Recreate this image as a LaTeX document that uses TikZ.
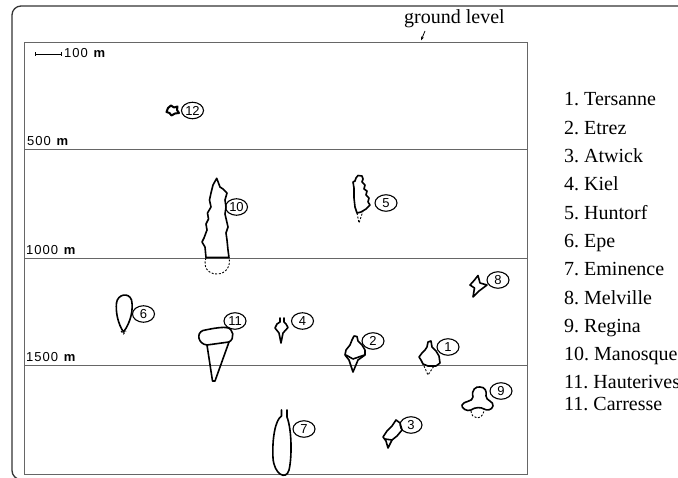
\documentclass[tikz,border=0pt]{standalone}
\usepackage{fontspec}
\setmainfont{Liberation Serif}
\setsansfont{Liberation Sans}
\newfontfamily\depthfont[LetterSpace=8]{Liberation Sans}
\usetikzlibrary{arrows.meta,positioning,shapes.geometric}
\frenchspacing

\begin{document}
\begin{tikzpicture}[
    x=1pt, y=-1pt,
    every node/.style={inner sep=0pt},
    outerframe/.style={draw=black!80, line width=1.3pt, rounded corners=9pt},
    bandline/.style={draw=black!60, line width=0.8pt},
    cavern/.style={draw, line width=1.6pt, line join=round, line cap=round},
    tail/.style={draw, line width=0.9pt, dash pattern=on 2pt off 1.6pt},
    tag/.style={ellipse, draw, line width=1.1pt, minimum width=22pt,
        minimum height=16.5pt, inner sep=0pt,
        font=\sffamily\fontsize{13}{13}\selectfont},
    depth/.style={anchor=base west, font=\depthfont\fontsize{13}{13}\selectfont},
    site/.style={anchor=base west, font=\fontsize{20}{20}\selectfont},
]
\useasboundingbox (0,0) rectangle (678,478);
\clip (0,0) rectangle (678,478);

% ===== Frame and depth bands =====
\draw[outerframe] (700,6) -- (12,6) -- (12,479.5) -- (40,479.5);
\draw[bandline] (24,42) rectangle (527,474);
\draw[bandline] (24,149) -- (527,149);
\draw[bandline] (24,258) -- (527,258);
\draw[bandline] (24,365) -- (527,365);

% Depth marks
\node[depth] (d500) at (27,146) {500 \textbf{m}};
\node[depth] (d1000) at (26,255) {1000 \textbf{m}};
\node[depth] (d1500) at (26,362) {1500 \textbf{m}};

% Scale bar
\draw[line width=0.8pt, {Bar[width=4pt]}-{Bar[width=4pt]}] (35,54) -- (62,54);
\node[depth] (bar) at (64,58) {100 \textbf{m}};

% Ground level
\node[site] (gl) at (404,24) {ground level};
\coordinate (glfoot) at (425,31);
\coordinate (glsurf) at (421,40.5);
\draw[-{Stealth[length=4pt,width=3pt]}, line width=0.8pt] (glfoot) -- (glsurf);

% ===== Caverns =====
% 12
\draw[cavern, line width=2pt] (168,108) -- (171,105.5) -- (174,107.5) -- (177.5,106.5)
    -- (177,110) -- (179,113) -- (175,113.5) -- (171.5,115.5) -- (169.5,113)
    -- (166.5,112) -- cycle;
\node[tag] (t12) at (192.5,110.5) {12};

% 10
\draw[cavern] (206,257.5) -- (205,247) -- (202,242) -- (204,238) -- (207,230)
    -- (206,224) -- (208.5,219) -- (207.5,213) -- (211,207) -- (209.5,200)
    -- (211,193) -- (213,185) -- (216.7,178.3)
    -- (220,187) -- (223,189) -- (227,193) -- (225,200) -- (226,207) -- (225,214)
    -- (228,227) -- (226,233) -- (227,240) -- (228,250)
    -- (229,257.5) -- cycle;
\draw[tail] (206,258) .. controls (203,266) and (207,274) .. (217,274)
    .. controls (226,274) and (231,266) .. (229,258);
\node[tag] (t10) at (236.5,207) {10};

% 5
\draw[cavern] (356,178) -- (358,175.5) -- (362,176) -- (363,179) -- (362,182)
    -- (365,185) -- (364,189) -- (367,191) -- (366,195) -- (369,198) -- (368,202)
    -- (370,205) -- (366,209) -- (361,212) -- (357,213) -- (355,207) -- (354,198)
    -- (354,188) -- (353,182) -- (355,181) -- cycle;
\draw[tail] (357,213) -- (359,223) -- (363,211);
\node[tag] (t5) at (386,203) {5};

% 8
\draw[cavern] (478,275.5) -- (474.5,280) -- (470,285) -- (474.5,288) -- (473,297)
    -- (479,291) -- (487,285) -- (480,283) -- cycle;
\node[tag] (t8) at (498,280) {8};

% 6
\draw[cavern] (123.5,332) .. controls (118,324) and (115.5,312) .. (116.5,303)
    .. controls (117.5,294) and (129,292) .. (131.5,300)
    .. controls (133.5,309) and (131,322) .. (123.5,332) -- cycle;
\draw[tail] (121,331) -- (123.5,334) -- (126,331);
\node[tag] (t6) at (143.5,314) {6};

% 11
\draw[cavern] (207,345) .. controls (198,344) and (196,333) .. (203,330.5)
    .. controls (210,329) and (220,327) .. (226,327.5)
    .. controls (234,328) and (235,339) .. (229,342)
    -- (215,381) -- (212.5,381) -- cycle;
\draw[cavern] (207,345) -- (229,342);
\node[tag] (t11) at (235,321) {11};

% 4
\draw[cavern] (280,318) -- (280,322) -- (277,324) -- (275,328) -- (279,333)
    -- (281,343) -- (283,333) -- (288,327.5) -- (286,324) -- (284,322) -- (284,318);
\node[tag] (t4) at (302.5,321) {4};

% 2
\draw[cavern] (354,336) -- (357,336.5) -- (358,341) -- (362,345) -- (365,350)
    -- (365,355) -- (358,360) -- (353,372) -- (349,360) -- (345,355) -- (346,350)
    -- (350,345) -- (352,340) -- cycle;
\draw[cavern] (346,355) -- (353,359) -- (364.5,355);
\node[tag] (t2) at (373,341) {2};

% 1
\draw[cavern] (427,347) -- (428,342) -- (431,341) -- (432,347) -- (436,351)
    -- (439,356) -- (440,363) -- (436,366) -- (428,366) -- (423,364) -- (421,360)
    -- (419,357) -- (422,353) -- (425,350) -- cycle;
\draw[tail] (424,366) -- (428,375) -- (434,366);
\node[tag] (t1) at (448,347) {1};

% 9
\draw[cavern] (473,397) .. controls (471,390) and (476,386) .. (480,387)
    .. controls (485,387) and (487,391) .. (486,396)
    .. controls (486,401) and (494,401) .. (493,406)
    .. controls (492,410) and (487,411) .. (484,409)
    .. controls (481,407) and (475,407) .. (471,410)
    .. controls (467,412) and (461,408) .. (462,405)
    .. controls (463,401) and (473,402) .. (473,397) -- cycle;
\draw[tail] (471,411) .. controls (471,419) and (482,421) .. (484,411);
\node[tag] (t9) at (501,391) {9};

% 3
\draw[cavern] (396,420) -- (400,423) -- (402,430) -- (397,436) -- (392,440)
    -- (388,448) -- (386,441) -- (383,437) -- (387,431) -- (392,426) -- cycle;
\draw[cavern] (385,439) -- (392,440);
\node[tag] (t3) at (411,425) {3};

% 7
\draw[cavern] (281.5,410) -- (281.5,416) .. controls (275,420) and (272,440) .. (273,458)
    .. controls (274,474) and (286,481) .. (289,470)
    .. controls (292,458) and (292,430) .. (287,417) -- (287,410);
\node[tag] (t7) at (304,429) {7};

% ===== RIGHT: site list =====
\node[site] (l1) at (564,106) {1. Tersanne};
\node[site, below=28.3pt of l1.base west, anchor=base west] (l2) {2. Etrez};
\node[site, below=28.3pt of l2.base west, anchor=base west] (l3) {3. Atwick};
\node[site, below=28.3pt of l3.base west, anchor=base west] (l4) {4. Kiel};
\node[site, below=28.3pt of l4.base west, anchor=base west] (l5) {5. Huntorf};
\node[site, below=28.3pt of l5.base west, anchor=base west] (l6) {6. Epe};
\node[site, below=28.3pt of l6.base west, anchor=base west] (l7) {7. Eminence};
\node[site, below=28.3pt of l7.base west, anchor=base west] (l8) {8. Melville};
\node[site, below=28.3pt of l8.base west, anchor=base west] (l9) {9. Regina};
\node[site, below=28.3pt of l9.base west, anchor=base west] (l10) {10. Manosque};
\node[site, below=28.3pt of l10.base west, anchor=base west] (l11) {11. Hauterives};
\node[site, below=22pt of l11.base west, anchor=base west] (l12) {11. Carresse};

\end{tikzpicture}
\end{document}
